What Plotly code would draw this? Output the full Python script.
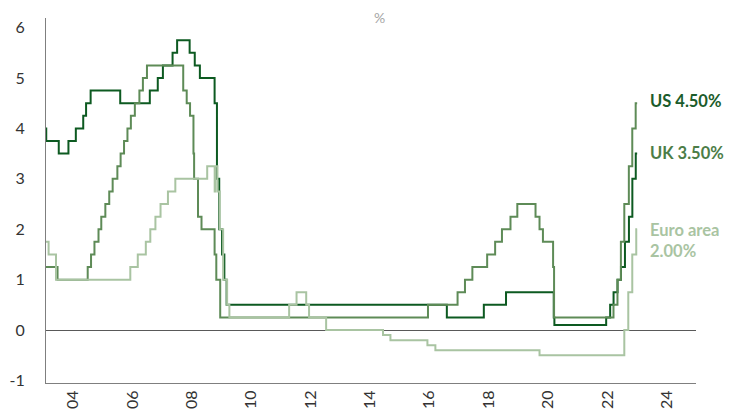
import plotly.graph_objects as go

# Policy rate decisions: effective date and new rate (%), held until the next change
uk_dates = ["2003-01-01", "2003-02-06", "2003-07-10", "2003-11-06", "2004-02-05", "2004-05-06",
            "2004-06-10", "2004-08-05", "2005-08-04", "2006-08-03", "2006-11-09", "2007-01-11",
            "2007-05-10", "2007-07-05", "2007-12-06", "2008-02-07", "2008-04-10", "2008-10-08",
            "2008-11-06", "2008-12-04", "2009-01-08", "2009-02-05", "2009-03-05", "2016-08-04",
            "2017-11-02", "2018-08-02", "2020-03-11", "2020-03-19", "2021-12-16", "2022-02-03",
            "2022-03-17", "2022-05-05", "2022-06-16", "2022-08-04", "2022-09-22", "2022-11-03",
            "2022-12-15", "2023-01-01"]
uk_rates = [4.0, 3.75, 3.5, 3.75, 4.0, 4.25,
            4.5, 4.75, 4.5, 4.75, 5.0, 5.25,
            5.5, 5.75, 5.5, 5.25, 5.0, 4.5,
            3.0, 2.0, 1.5, 1.0, 0.5, 0.25,
            0.5, 0.75, 0.25, 0.1, 0.25, 0.5,
            0.75, 1.0, 1.25, 1.75, 2.25, 3.0,
            3.5, 3.5]

us_dates = ["2003-01-01", "2003-06-25", "2004-06-30", "2004-08-10", "2004-09-21", "2004-11-10",
            "2004-12-14", "2005-02-02", "2005-03-22", "2005-05-03", "2005-06-30", "2005-08-09",
            "2005-09-20", "2005-11-01", "2005-12-13", "2006-01-31", "2006-03-28", "2006-05-10",
            "2006-06-29", "2007-09-18", "2007-10-31", "2007-12-11", "2008-01-22", "2008-01-30",
            "2008-03-18", "2008-04-30", "2008-10-08", "2008-10-29", "2008-12-16", "2015-12-16",
            "2016-12-14", "2017-03-15", "2017-06-14", "2017-12-13", "2018-03-21", "2018-06-13",
            "2018-09-26", "2018-12-19", "2019-07-31", "2019-09-18", "2019-10-30", "2020-03-03",
            "2020-03-15", "2022-03-16", "2022-05-04", "2022-06-15", "2022-07-27", "2022-09-21",
            "2022-11-02", "2022-12-14", "2023-01-01"]
us_rates = [1.25, 1.0, 1.25, 1.5, 1.75, 2.0,
            2.25, 2.5, 2.75, 3.0, 3.25, 3.5,
            3.75, 4.0, 4.25, 4.5, 4.75, 5.0,
            5.25, 4.75, 4.5, 4.25, 3.5, 3.0,
            2.25, 2.0, 1.5, 1.0, 0.25, 0.5,
            0.75, 1.0, 1.25, 1.5, 1.75, 2.0,
            2.25, 2.5, 2.25, 2.0, 1.75, 1.25,
            0.25, 0.5, 1.0, 1.75, 2.5, 3.25,
            4.0, 4.5, 4.5]

ea_dates = ["2003-01-01", "2003-03-07", "2003-06-06", "2005-12-06", "2006-03-08", "2006-06-15",
            "2006-08-09", "2006-10-11", "2006-12-13", "2007-03-14", "2007-06-13", "2008-07-09",
            "2008-10-09", "2008-10-15", "2008-11-12", "2008-12-10", "2009-01-21", "2009-03-11",
            "2009-04-08", "2011-04-13", "2011-07-13", "2011-11-09", "2011-12-14", "2012-07-11",
            "2014-06-11", "2014-09-10", "2015-12-09", "2016-03-16", "2019-09-18", "2022-07-27",
            "2022-09-14", "2022-11-02", "2022-12-21", "2023-01-01"]
ea_rates = [1.75, 1.5, 1.0, 1.25, 1.5, 1.75,
            2.0, 2.25, 2.5, 2.75, 3.0, 3.25,
            2.75, 3.25, 2.75, 2.0, 1.0, 0.5,
            0.25, 0.5, 0.75, 0.5, 0.25, 0.0,
            -0.1, -0.2, -0.3, -0.4, -0.5, 0.0,
            0.75, 1.5, 2.0, 2.0]

end_labels = ["US 4.50%", "UK 3.50%", "Euro area<br>2.00%"]
end_label_y = [4.55, 3.52, 1.78]

y_ticks = [-1, 0, 1, 2, 3, 4, 5, 6]
y_tick_text = ["-1", "0", "1", "2", "3", "4", "5", "6"]
x_tick_years = list(range(2004, 2025, 2))
x_tick_vals = [f"{y}-01-01" for y in x_tick_years]
x_tick_text = [f"{y % 100:02d}" for y in x_tick_years]

DARK = "#0d5a21"
MID = "#5e8b57"
LIGHT = "#a9c4a2"

fig = go.Figure()
fig.add_trace(go.Scatter(x=uk_dates, y=uk_rates, mode="lines", line_shape="hv",
                         line=dict(color=DARK, width=2), name="UK"))
fig.add_trace(go.Scatter(x=us_dates, y=us_rates, mode="lines", line_shape="hv",
                         line=dict(color=MID, width=2), name="US"))
fig.add_trace(go.Scatter(x=ea_dates, y=ea_rates, mode="lines", line_shape="hv",
                         line=dict(color=LIGHT, width=2), name="Euro area"))

label_colors = ["#1b5c2b", "#4c7d47", LIGHT]
for text, yv, col in zip(end_labels, end_label_y, label_colors):
    fig.add_annotation(x="2023-05-15", y=yv, text=f"<b>{text}</b>", showarrow=False,
                       xanchor="left", yanchor="middle", align="left",
                       font=dict(family="Lato, sans-serif", size=16.5, color=col))

fig.add_annotation(xref="paper", yref="paper", x=(379 - 46) / 650, y=1.0, text="%",
                   showarrow=False, xanchor="center", yanchor="bottom", yshift=-10,
                   font=dict(family="Lato, sans-serif", size=14, color="#a6a6a6"))

fig.update_layout(
    width=729, height=416,
    margin=dict(l=46, r=33, t=18, b=33),
    paper_bgcolor="white", plot_bgcolor="white",
    showlegend=False,
    font=dict(family="Lato, sans-serif", size=16, color="#333333"),
)
fig.update_xaxes(range=["2003-02-03", "2024-12-25"], tickvals=x_tick_vals, ticktext=x_tick_text,
                 tickangle=-90, showgrid=False, zeroline=False, showline=True, automargin=False,
                 linecolor="#7f7f7f", linewidth=1, ticks="", tickfont=dict(size=16, color="#333333"))
fig.update_yaxes(range=[-1.05, 6.19], tickvals=y_ticks, ticktext=y_tick_text,
                 showgrid=False, automargin=False,
                 zeroline=True, zerolinecolor="#595959", zerolinewidth=1,
                 showline=True, linecolor="#7f7f7f", linewidth=1, ticks="",
                 ticklabelstandoff=17, tickfont=dict(size=16, color="#333333"))

fig.write_html("out.html")
